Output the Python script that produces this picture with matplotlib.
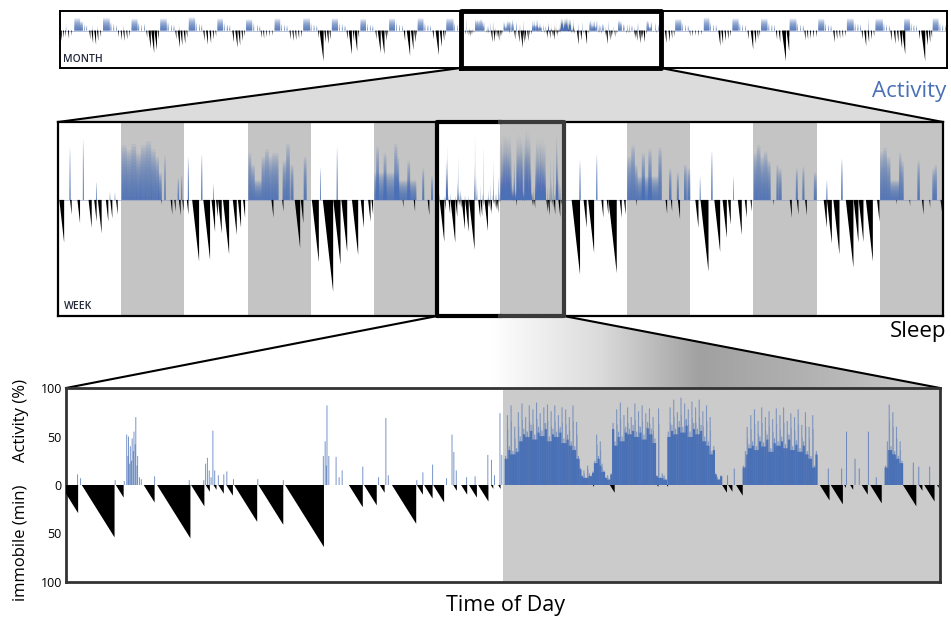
import numpy as np
import matplotlib
matplotlib.use('Agg')
import matplotlib.pyplot as plt
from matplotlib.patches import Polygon
from matplotlib.collections import PolyCollection

plt.rcParams['font.family'] = ['Open Sans', 'DejaVu Sans']

BLUE = '#4a70b5'

# ---------------- one day in detail (minutes after lights on, dark 720-1440) -------------
# activity in 3 min bins during the dark phase: (first minute, [% per bin])
act_runs = [
    (723, [30, 72, 40, 82, 35, 60, 38, 75, 50, 84, 58, 70, 55, 82, 62, 78, 52, 85, 60, 74,
           56, 80, 64, 83, 50, 76, 58, 82, 55, 72, 60, 80, 48, 78, 52, 70, 45, 82, 40, 65, 30]),
    (846, [18, 10, 15, 8, 20, 12, 10, 14]),
    (870, [25, 52, 30, 45, 22, 15]),
    (888, [8, 10, 6, 12]),
    (900, [64]),
    (903, [45, 78, 55, 85, 50, 72, 60, 80, 58, 70, 62, 84, 55, 76, 60, 82, 52, 74, 65, 79, 58, 70, 48]),
    (972, [10, 79, 8, 12, 10, 6]),
    (991, [55, 80, 62, 88, 58, 75, 66, 90, 60, 84, 68, 78, 55, 86, 64, 80, 58, 88, 62, 76,
           50, 82, 45, 70, 35, 40]),
    (1069, [12, 8, 6, 10]),
    (1115, [20, 35, 60, 42, 72, 45, 78, 40, 66, 50, 80, 44, 70, 52, 76, 38, 68, 48, 79, 45,
            72, 50, 80, 42, 66, 52, 74, 40, 70, 46, 78, 38, 62, 45, 75, 35, 60, 30, 72, 20, 35]),
    (1349, [20, 45, 83, 40, 75, 35, 60, 30, 45, 25]),
]
# short activity spikes: (minute, %)
act_spikes = [(19, 11), (24, 7), (81, 5), (96, 4), (100, 52), (102, 30), (103, 50), (105, 22),
              (106, 40), (108, 25), (109, 48), (111, 35), (112, 55), (114, 42), (115, 70), (117, 20),
              (118, 30), (121, 8), (124, 6), (146, 9), (203, 5), (227, 5), (230, 22), (233, 28),
              (236, 15), (239, 8), (242, 56), (245, 15), (251, 10),
              (260, 11), (265, 14), (276, 6), (316, 6), (358, 5), (424, 30), (427, 45), (429, 20),
              (430, 82), (433, 30), (445, 29), (450, 8), (455, 15),
              (489, 19), (515, 8), (527, 69), (531, 10), (578, 5), (588, 13), (604, 21), (627, 7),
              (636, 52), (639, 34), (643, 15), (660, 8), (674, 9), (695, 31), (701, 26), (706, 10),
              (715, 74), (718, 31), (1090, 10), (1101, 17), (1256, 17), (1278, 17), (1286, 55),
              (1300, 27), (1307, 17), (1322, 55), (1335, 8), (1396, 23), (1405, 19), (1423, 19)]
# immobile episodes: (start minute, duration min)
imm_episodes = [(-9, 29), (26, 54), (82, 13), (128, 18), (150, 55), (206, 22), (230, 7), (243, 5),
                (251, 9), (264, 11), (277, 38), (317, 41), (361, 64), (466, 23), (491, 21), (517, 8),
                (537, 40), (578, 10), (590, 14), (605, 18), (638, 6), (651, 10), (664, 13), (679, 17),
                (700, 4), (712, 4), (868, 2), (896, 8), (974, 2), (990, 2), (1081, 8), (1091, 7),
                (1104, 11), (1242, 16), (1260, 20), (1282, 3), (1292, 5), (1311, 10), (1325, 19),
                (1379, 22), (1405, 6), (1414, 17), (1435, 3)]

# ---------------- week: activity bursts (start, end, %) and immobile (start, dur) ------------
# day 3 of the week is the day shown in detail
DETAIL_DAY = 3
week_act = [
    [(132, 142, 67), (284, 294, 77), (436, 444, 23), (590, 594, 10), (647, 651, 10),
     (725, 780, 70), (780, 835, 64), (835, 890, 72), (890, 945, 60), (945, 1000, 70),
     (1000, 1060, 75), (1060, 1110, 65), (1110, 1150, 55), (1150, 1180, 35), (1212, 1225, 58),
     (1365, 1377, 28), (1403, 1414, 32)],
    [(40, 52, 54), (190, 203, 58), (326, 334, 20), (730, 760, 60), (760, 800, 45), (880, 920, 55),
     (920, 960, 65), (960, 1000, 55), (1000, 1040, 60), (1040, 1070, 60), (1120, 1160, 50),
     (1160, 1200, 72), (1210, 1240, 45), (1360, 1390, 55), (800, 880, 25)],
    [(105, 115, 41), (295, 305, 67), (745, 775, 68), (830, 860, 60), (950, 985, 72), (985, 1005, 55),
     (1100, 1130, 50), (1270, 1290, 40), (1370, 1390, 30), (725, 1000, 35), (1000, 1200, 25)],
    None,
    [(180, 192, 50), (370, 382, 58), (725, 770, 55), (770, 810, 70), (810, 840, 45), (890, 925, 60),
     (965, 1000, 65), (1080, 1115, 67), (1200, 1225, 40), (1290, 1310, 35), (1370, 1400, 45),
     (1410, 1440, 40), (840, 1080, 30)],
    [(110, 118, 30), (240, 254, 62), (490, 498, 30), (725, 760, 60), (760, 800, 70), (800, 840, 55),
     (840, 880, 62), (880, 915, 50), (985, 1005, 45), (1010, 1040, 40), (1205, 1225, 40),
     (1280, 1300, 42), (1410, 1440, 35)],
    [(112, 122, 25), (280, 296, 52), (725, 760, 62), (760, 800, 67), (800, 840, 55), (940, 965, 60),
     (965, 990, 50), (1150, 1175, 50), (1320, 1345, 40), (1345, 1370, 45), (840, 940, 25)],
]
week_imm = [
    [(15, 55), (137, 19), (221, 30), (348, 36), (412, 28), (454, 43), (545, 28), (595, 24),
     (661, 19), (1175, 6), (1283, 19), (1325, 15), (1377, 20), (1416, 15)],
    [(27, 19), (88, 79), (215, 77), (308, 41), (359, 22), (382, 43), (439, 70), (551, 45),
     (609, 36), (668, 23), (991, 23), (1113, 15), (1256, 62), (1325, 30)],
    [(11, 80), (136, 118), (255, 83), (347, 67), (468, 71), (568, 36), (652, 28), (690, 19),
     (1045, 10), (1172, 15), (1330, 20)],
    None,
    [(90, 96), (226, 36), (278, 68), (429, 23), (490, 19), (510, 94), (638, 23), (687, 19),
     (825, 8), (1160, 18), (1220, 15), (1300, 25)],
    [(59, 36), (117, 92), (275, 67), (369, 49), (431, 32), (543, 45), (622, 23), (687, 15),
     (945, 7), (1135, 23), (1215, 19), (1309, 20)],
    [(81, 36), (118, 56), (191, 70), (333, 87), (422, 55), (480, 54), (562, 79), (689, 28),
     (905, 6), (1058, 8), (1200, 19), (1284, 10), (1412, 15)],
]

# ---------------- month (31 days); days 14-20 are the week above ----------------
WEEK_START = 14
month_act = [
    [(725, 1010, 83), (1010, 1150, 60), (1220, 1250, 40), (1330, 1360, 35), (300, 310, 40)],
    [(725, 1060, 84), (1100, 1140, 55), (1250, 1280, 45), (1380, 1410, 35), (200, 210, 35), (450, 460, 30)],
    [(725, 1020, 78), (1060, 1100, 50), (1200, 1230, 40), (1350, 1380, 45), (330, 340, 35)],
    [(725, 1050, 80), (1100, 1140, 55), (1270, 1300, 40), (1400, 1430, 35)],
    [(725, 1040, 88), (1080, 1110, 55), (1240, 1270, 45), (1360, 1390, 40), (250, 260, 30)],
    [(725, 1000, 80), (1050, 1080, 50), (1200, 1240, 40), (1330, 1360, 35)],
    [(725, 1030, 74), (1100, 1130, 50), (1280, 1310, 40), (1400, 1430, 30)],
    [(725, 1000, 80), (1050, 1080, 45), (1200, 1230, 40), (1330, 1360, 35)],
    [(725, 1060, 82), (1100, 1130, 50), (1250, 1280, 40), (1390, 1420, 35)],
    [(725, 1030, 80), (1080, 1110, 50), (1230, 1260, 45), (1370, 1400, 35)],
    [(725, 1000, 78), (1060, 1090, 45), (1200, 1230, 40), (1330, 1360, 35)],
    [(725, 1020, 80), (1080, 1110, 55), (1240, 1270, 40), (1380, 1410, 35)],
    [(725, 1010, 82), (1070, 1100, 50), (1220, 1250, 40), (1350, 1380, 35)],
    [(725, 1080, 80), (1120, 1150, 50), (1260, 1290, 40), (1400, 1430, 35)],
    None, None, None, None, None, None, None,
    [(725, 1030, 75), (1080, 1110, 50), (1230, 1260, 40), (1360, 1390, 35)],
    [(725, 1000, 85), (1050, 1080, 55), (1200, 1230, 40), (1330, 1360, 35)],
    [(725, 1030, 80), (1080, 1110, 50), (1220, 1250, 40), (1360, 1390, 35)],
    [(725, 1040, 78), (1100, 1130, 50), (1250, 1280, 40), (1380, 1410, 35)],
    [(725, 1060, 80), (1110, 1140, 50), (1260, 1290, 40), (1390, 1420, 35)],
    [(725, 1020, 78), (1080, 1110, 50), (1220, 1250, 40), (1350, 1380, 35)],
    [(725, 1060, 80), (1120, 1150, 50), (1260, 1290, 45), (1390, 1420, 40)],
    [(725, 1090, 78), (1130, 1160, 50), (1270, 1300, 40), (1400, 1430, 35), (380, 395, 80)],
    [(725, 1010, 80), (1060, 1090, 50), (1200, 1230, 40), (1340, 1370, 35)],
    [(725, 1010, 82), (1070, 1100, 50), (1210, 1240, 40), (1350, 1380, 35)],
]
month_imm = [
    [(20, 70), (150, 50), (260, 40), (400, 55), (560, 35)],
    [(30, 60), (140, 85), (280, 95), (420, 70), (580, 45)],
    [(40, 45), (170, 65), (300, 70), (450, 60), (600, 40)],
    [(20, 50), (130, 120), (270, 150), (430, 130), (590, 60)],
    [(40, 60), (160, 115), (300, 100), (460, 90), (600, 50)],
    [(10, 70), (150, 95), (320, 85), (480, 60), (620, 40)],
    [(30, 80), (180, 115), (330, 100), (490, 70), (620, 40)],
    [(20, 50), (140, 55), (280, 45), (430, 40), (580, 35)],
    [(30, 60), (170, 70), (310, 65), (460, 55), (600, 45)],
    [(20, 50), (100, 205), (340, 80), (470, 90), (600, 60)],
    [(20, 60), (130, 160), (330, 70), (420, 140), (600, 50)],
    [(30, 60), (150, 150), (330, 160), (530, 70), (630, 40)],
    [(20, 70), (170, 170), (380, 130), (540, 80), (640, 40)],
    [(30, 60), (180, 165), (390, 110), (550, 70), (650, 40)],
    None, None, None, None, None, None, None,
    [(50, 60), (200, 85), (380, 75), (520, 55), (640, 40)],
    [(0, 40), (120, 40), (280, 35), (430, 40), (580, 30)],
    [(10, 105), (160, 90), (320, 70), (470, 60), (600, 40)],
    [(40, 60), (200, 128), (380, 90), (520, 60), (630, 40)],
    [(30, 60), (170, 80), (330, 205), (560, 140), (660, 40)],
    [(20, 65), (150, 60), (300, 55), (450, 50), (600, 45)],
    [(30, 80), (180, 60), (330, 55), (480, 50), (620, 40)],
    [(20, 60), (150, 105), (320, 80), (480, 60), (620, 40)],
    [(30, 70), (200, 90), (360, 80), (500, 120), (620, 160)],
    [(20, 60), (140, 205), (380, 100), (520, 80), (640, 50)],
]

# the detailed day as bursts, for the week and month views
detail_bursts = [(s + 3 * i, s + 3 * i + 3, v) for s, vals in act_runs for i, v in enumerate(vals)]
detail_bursts += [(m - 1, m + 1, v) for m, v in act_spikes]
week_act[DETAIL_DAY] = detail_bursts
week_imm[DETAIL_DAY] = imm_episodes
for k in range(7):
    month_act[WEEK_START + k] = week_act[k]
    month_imm[WEEK_START + k] = week_imm[k]


def draw_days(ax, acts, imms, layers=18, alpha=0.1):
    xs, ws, vs = [], [], []
    polys = []
    for d, (bursts, eps) in enumerate(zip(acts, imms)):
        for s, e, v in bursts:
            xs.append(d + s / 1440)
            ws.append((e - s) / 1440)
            vs.append(v)
        for s, dur in eps:
            x0, x1 = d + s / 1440, d + (s + dur) / 1440
            polys.append([(x0, 0), (x1, -dur), (x1, 0)])
    vs = np.array(vs, dtype=float)
    for f in np.linspace(1 / layers, 1, layers):
        ax.bar(xs, vs * f, width=ws, align='edge', color=BLUE, alpha=alpha, lw=0, zorder=2,
               snap=False)
    ax.add_collection(PolyCollection(polys, facecolors='black', edgecolors='none', zorder=3))


fig = plt.figure(figsize=(9.51, 6.18), dpi=100)


def box(x0, y0, x1, y1):
    return [x0 / 951, 1 - y1 / 618, (x1 - x0) / 951, (y1 - y0) / 618]


bg = fig.add_axes([0, 0, 1, 1], zorder=0)
bg.set_xlim(0, 951)
bg.set_ylim(618, 0)
bg.axis('off')

ax_m = fig.add_axes(box(60, 11, 947, 68), zorder=1)
ax_w = fig.add_axes(box(58, 122, 943, 316), zorder=1)
ax_d = fig.add_axes(box(66, 388, 940, 582), zorder=1)

# month
ax_m.set_xlim(0, 31)
ax_m.set_ylim(-250, 130)
ax_m.axhline(0, color='#a9b6d3', lw=0.6, zorder=1)
draw_days(ax_m, month_act, month_imm)

# week
ax_w.set_xlim(0, 7)
ax_w.set_ylim(-149, 100)
for k in range(7):
    ax_w.axvspan(k + 0.5, k + 1, color='#c4c4c4', lw=0, zorder=0)
ax_w.axhline(0, color='#8a9cc4', lw=0.6, alpha=0.7, zorder=1)
draw_days(ax_w, week_act, week_imm)

# day
ax_d.set_xlim(0, 1440)
ax_d.set_ylim(-100, 100)
ax_d.axvspan(720, 1440, color='#cbcbcb', lw=0, zorder=0)
sx = [m for m, v in act_spikes]
sv = [v for m, v in act_spikes]
ax_d.bar(sx, sv, width=1.6, color=BLUE, alpha=0.75, lw=0, zorder=2, snap=False)
for s, vals in act_runs:
    vals = np.array(vals, dtype=float)
    x = s + 3 * np.arange(len(vals))
    body = vals.copy()
    if len(vals) > 2:
        body[1:-1] = np.minimum(np.minimum(vals[:-2], vals[1:-1]), vals[2:])
    ax_d.bar(x + 0.4, vals, width=1.8, align='edge', color=BLUE, alpha=0.6, lw=0, zorder=2,
             snap=False)
    ax_d.bar(x + 1.8, vals * 0.8, width=1.0, align='edge', color=BLUE, alpha=0.5, lw=0,
             zorder=2, snap=False)
    ax_d.bar(x - 0.3, body * 0.9, width=3.6, align='edge', color=BLUE, lw=0, zorder=2, snap=False)
tri = [[(s, 0), (s + d, -d), (s + d, 0)] for s, d in imm_episodes]
ax_d.add_collection(PolyCollection(tri, facecolors='black', edgecolors='none', zorder=3))
ax_d.set_xticks([])
ax_d.set_yticks([100, 50, 0, -50, -100])
ax_d.set_yticklabels(['100', '50', '0', '50', '100'])
ax_d.tick_params(axis='y', length=0, pad=3, labelsize=9)

for ax in (ax_m, ax_w):
    ax.set_xticks([])
    ax.set_yticks([])
for sp in ax_m.spines.values():
    sp.set_linewidth(1.4)
for sp in ax_w.spines.values():
    sp.set_linewidth(1.6)
for sp in ax_d.spines.values():
    sp.set_linewidth(2)
    sp.set_color('#333333')


def to_px(ax, x, y):
    return bg.transData.inverted().transform(ax.transData.transform((x, y)))


# connector from month box to week panel
a0 = to_px(ax_m, WEEK_START, -250)
a1 = to_px(ax_m, WEEK_START + 7, -250)
b0 = to_px(ax_w, 0, 100)
b1 = to_px(ax_w, 7, 100)
bg.add_patch(Polygon([a0, a1, b1, b0], closed=True, facecolor='#dcdcdc', edgecolor='none'))
bg.plot([a0[0], b0[0]], [a0[1], b0[1]], color='black', lw=1.5)
bg.plot([a1[0], b1[0]], [a1[1], b1[1]], color='black', lw=1.5)

# connector from week box to day panel, with grey gradient
c0 = to_px(ax_w, DETAIL_DAY, -149)
c1 = to_px(ax_w, DETAIL_DAY + 1, -149)
d0 = to_px(ax_d, 0, 100)
d1 = to_px(ax_d, 1440, 100)
trap = Polygon([c0, c1, d1, d0], closed=True, facecolor='none', edgecolor='none')
bg.add_patch(trap)
gx = np.linspace(d0[0], d1[0], 600)
grey = np.interp(gx, [66, 490, 600, 700, 780, 940], [1.0, 1.0, 0.86, 0.63, 0.68, 0.79])
img = np.dstack([grey, grey, grey])
im = bg.imshow(img, extent=(d0[0], d1[0], d0[1], c0[1]), aspect='auto', interpolation='bilinear')
im.set_clip_path(trap)
bg.set_xlim(0, 951)
bg.set_ylim(618, 0)
bg.plot([c0[0], d0[0]], [c0[1], d0[1]], color='black', lw=1.5)
bg.plot([c1[0], d1[0]], [c1[1], d1[1]], color='black', lw=1.5)

# highlight boxes
ax_m.plot([WEEK_START, WEEK_START + 7, WEEK_START + 7, WEEK_START, WEEK_START],
          [-250, -250, 130, 130, -250], color='black', lw=3.5, clip_on=False, zorder=6)
ax_w.plot([DETAIL_DAY + 0.5, DETAIL_DAY, DETAIL_DAY, DETAIL_DAY + 0.5],
          [100, 100, -149, -149], color='black', lw=3, clip_on=False, zorder=6,
          solid_capstyle='projecting')
ax_w.plot([DETAIL_DAY + 0.5, DETAIL_DAY + 1, DETAIL_DAY + 1, DETAIL_DAY + 0.5],
          [100, 100, -149, -149], color='#3a3a3a', lw=3, clip_on=False, zorder=6,
          solid_capstyle='projecting')


def ftext(x, y, s, **kw):
    fig.text(x / 951, 1 - y / 618, s, **kw)


ftext(63, 60, 'MONTH', fontsize=7.5, fontweight='semibold', color='#23283a', va='center')
ftext(64, 307, 'WEEK', fontsize=7.5, fontweight='semibold', color='#23283a', va='center')
ftext(946, 91, 'Activity', fontsize=16, color=BLUE, ha='right', va='center')
ftext(946, 331, 'Sleep', fontsize=16, color='black', ha='right', va='center')
ftext(505, 606, 'Time of Day', fontsize=15.5, ha='center', va='center')
ftext(21, 420, 'Activity (%)', fontsize=12, rotation=90, ha='center', va='center')
ftext(21, 543, 'immobile (min)', fontsize=12, rotation=90, ha='center', va='center')

fig.savefig('out.png', dpi=100)
